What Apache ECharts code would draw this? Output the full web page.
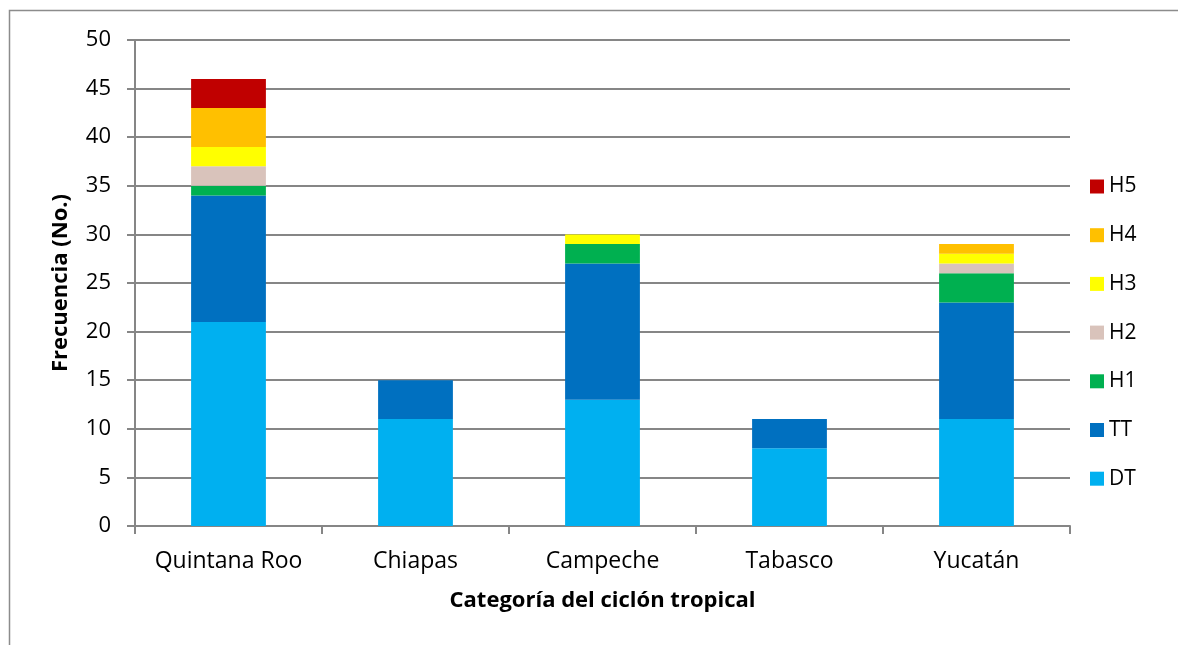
<!DOCTYPE html>
<html><head><meta charset="utf-8">
<script src="https://cdn.jsdelivr.net/npm/echarts@6/dist/echarts.min.js"></script>
<style>html,body{margin:0;padding:0;background:#fff}#c{width:1178px;height:645px}</style>
</head><body><div id="c"></div>
<script>
const categories = ['Quintana Roo', 'Chiapas', 'Campeche', 'Tabasco', 'Yucatán'];
const seriesNames = ['DT', 'TT', 'H1', 'H2', 'H3', 'H4', 'H5'];
const DT = [21, 11, 13, 8, 11];
const TT = [13, 4, 14, 3, 12];
const H1 = [1, 0, 2, 0, 3];
const H2 = [2, 0, 0, 0, 1];
const H3 = [2, 0, 1, 0, 1];
const H4 = [4, 0, 0, 0, 1];
const H5 = [3, 0, 0, 0, 0];
const values = [DT, TT, H1, H2, H3, H4, H5];
const colors = ['#00B0F0', '#0070C0', '#00B050', '#D9C3BB', '#FFFF00', '#FFC000', '#C00000'];
const font = '"Open Sans", sans-serif';

const chart = echarts.init(document.getElementById('c'));
chart.setOption({
  animation: false,
  graphic: [{
    type: 'rect', shape: {x: 9.5, y: 10.5, width: 1200, height: 700},
    style: {fill: 'none', stroke: '#8c8c8c', lineWidth: 1.5}, silent: true
  }],
  grid: {left: 135, top: 40, width: 935, height: 486, containLabel: false},
  legend: {
    orient: 'vertical', left: 1085, top: 171,
    itemWidth: 14, itemHeight: 14, itemGap: 27.7,
    data: seriesNames.slice().reverse(),
    textStyle: {fontFamily: font, fontSize: 21, color: '#000'},
    icon: 'rect'
  },
  xAxis: {
    type: 'category', data: categories,
    axisLine: {lineStyle: {color: '#868686', width: 2}},
    axisTick: {show: true, interval: 0, length: 8, lineStyle: {color: '#868686', width: 2}},
    axisLabel: {interval: 0, hideOverlap: false, fontFamily: font, fontSize: 23, color: '#000', margin: 24},
    name: 'Categoría del ciclón tropical', nameLocation: 'middle', nameGap: 64,
    nameTextStyle: {fontFamily: font, fontSize: 22, fontWeight: 'bold', color: '#000'}
  },
  yAxis: {
    type: 'value', min: 0, max: 50, interval: 5,
    axisLine: {show: true, lineStyle: {color: '#868686', width: 2}},
    axisTick: {show: true, length: 8, lineStyle: {color: '#868686', width: 2}},
    splitLine: {lineStyle: {color: '#868686', width: 2}},
    axisLabel: {fontFamily: font, fontSize: 22, color: '#000', margin: 24},
    name: 'Frecuencia (No.)', nameLocation: 'middle', nameGap: 63, nameRotate: 90,
    nameTextStyle: {fontFamily: font, fontSize: 22, fontWeight: 'bold', color: '#000'}
  },
  series: seriesNames.map((n, i) => ({
    name: n, type: 'bar', stack: 'total', data: values[i],
    barWidth: '40%',
    itemStyle: {color: colors[i]}
  }))
});
</script></body></html>
